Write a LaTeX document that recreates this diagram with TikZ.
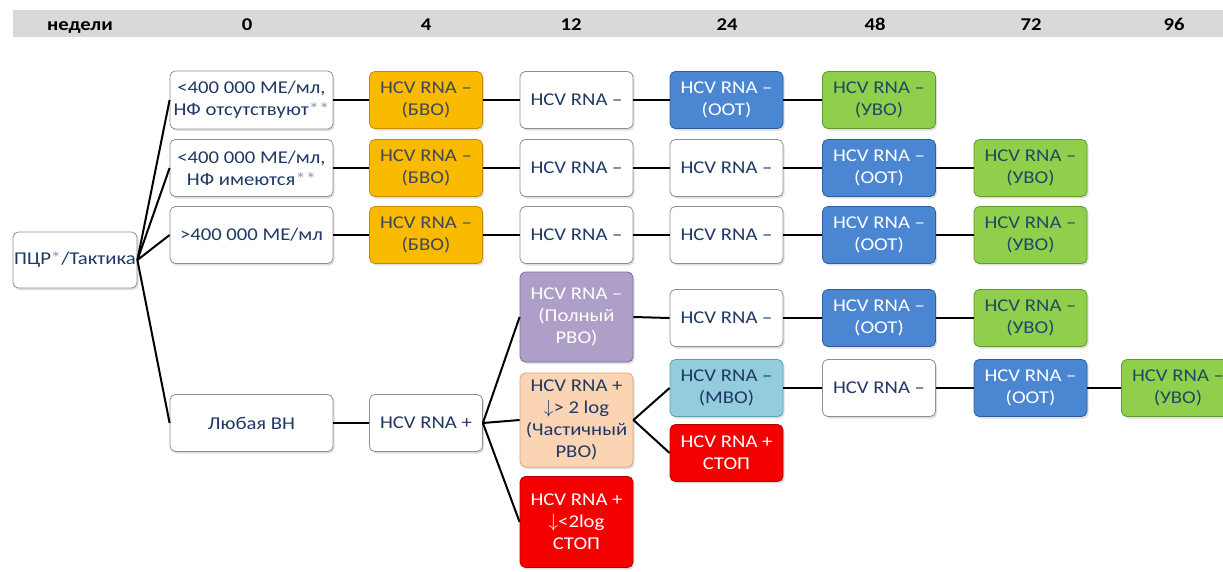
\documentclass[tikz,border=0pt]{standalone}
\usepackage{fontspec}
\setmainfont{Carlito}[FakeStretch=1.15]
\usepackage{xcolor}
\usepackage{tikz}
\usetikzlibrary{shadows}
\definecolor{hdrGray}{HTML}{D9D9D9}
\definecolor{boxEdge}{HTML}{8E8E8E}
\definecolor{inkNavy}{HTML}{1F3864}
\definecolor{starGray}{HTML}{8D9AAE}
\definecolor{bvoFill}{HTML}{F9BA00}
\definecolor{bvoEdge}{HTML}{C08E00}
\definecolor{bvoInk}{HTML}{3F4856}
\definecolor{ootFill}{HTML}{4A86D1}
\definecolor{ootEdge}{HTML}{2F5F9E}
\definecolor{uvoFill}{HTML}{8FCF4B}
\definecolor{uvoEdge}{HTML}{5F9A2E}
\definecolor{uvoInk}{HTML}{1E4A66}
\definecolor{rvoFill}{HTML}{AE9FC9}
\definecolor{rvoEdge}{HTML}{7D6E99}
\definecolor{partFill}{HTML}{FBD4B4}
\definecolor{partEdge}{HTML}{D8A67F}
\definecolor{mvoFill}{HTML}{93CDDD}
\definecolor{mvoEdge}{HTML}{5E9EB1}
\definecolor{stopFill}{HTML}{F50000}
\definecolor{stopEdge}{HTML}{B80000}

\begin{document}
\begin{tikzpicture}[x=0.75pt,y=-0.75pt,
    cell/.style={rectangle,rounded corners=4pt,line width=0.6pt,
                 minimum width=84.75pt,minimum height=42.75pt,
                 align=center,inner sep=1pt,
                 font=\fontsize{13.5}{16.5}\selectfont,
                 drop shadow={opacity=0.25,shadow xshift=1.2pt,shadow yshift=-1.5pt}},
    plainbox/.style={cell,draw=boxEdge,fill=white,text=inkNavy},
    widebox/.style={plainbox,minimum width=122.25pt},
    bvobox/.style={cell,draw=bvoEdge,fill=bvoFill,text=bvoInk},
    ootbox/.style={cell,draw=ootEdge,fill=ootFill,text=white},
    uvobox/.style={cell,draw=uvoEdge,fill=uvoFill,text=uvoInk},
    rvobox/.style={cell,draw=rvoEdge,fill=rvoFill,text=white,minimum height=67.5pt},
    partbox/.style={cell,draw=partEdge,fill=partFill,text=inkNavy,minimum height=70.5pt},
    mvobox/.style={cell,draw=mvoEdge,fill=mvoFill,text=inkNavy},
    stopbox/.style={cell,draw=stopEdge,fill=stopFill,text=white},
    weeklbl/.style={font=\fontsize{13.5}{15}\selectfont\bfseries,text=black,anchor=base},
    link/.style={line width=1.5pt,black}
  ]
  \clip (0,0) rectangle (1223,571);
  % Week scale
  \fill[hdrGray] (13,10) rectangle (1223,37);
  \node[weeklbl] (wk)   at (80,30)   {недели};
  \node[weeklbl] (wk0)  at (247,30)  {0};
  \node[weeklbl] (wk4)  at (426,30)  {4};
  \node[weeklbl] (wk12) at (571,30)  {12};
  \node[weeklbl] (wk24) at (727,30)  {24};
  \node[weeklbl] (wk48) at (875,30)  {48};
  \node[weeklbl] (wk72) at (1031,30) {72};
  \node[weeklbl] (wk96) at (1174,30) {96};
  % Start
  \node[plainbox,minimum width=93pt,minimum height=42pt,inner sep=0pt] (pcr) at (75,260)
       {ПЦР\textcolor{starGray}{*}/Тактика};
  % Row 1
  \node[widebox,minimum height=43.5pt] (c1) at (251.5,100)
       {<400 000 МЕ/мл,\\НФ отсутствуют\textcolor{starGray}{**}};
  \node[bvobox]   (bvo1)  at (426,100)   {HCV RNA –\\(БВО)};
  \node[plainbox] (neg1a) at (576.5,100) {HCV RNA –};
  \node[ootbox]   (oot1)  at (726.5,100) {HCV RNA –\\(ООТ)};
  \node[uvobox]   (uvo1)  at (879,100)   {HCV RNA –\\(УВО)};
  % Row 2
  \node[widebox] (c2) at (251.5,168)
       {<400 000 МЕ/мл,\\НФ имеются\textcolor{starGray}{ **}};
  \node[bvobox]   (bvo2)  at (426,168)    {HCV RNA –\\(БВО)};
  \node[plainbox] (neg2a) at (576.5,168)  {HCV RNA –};
  \node[plainbox] (neg2b) at (726.5,168)  {HCV RNA –};
  \node[ootbox]   (oot2)  at (879,168)    {HCV RNA –\\(ООТ)};
  \node[uvobox]   (uvo2)  at (1030.5,168) {HCV RNA –\\(УВО)};
  % Row 3
  \node[widebox]  (c3)    at (251.5,235)  {>400 000 МЕ/мл};
  \node[bvobox]   (bvo3)  at (426,235)    {HCV RNA –\\(БВО)};
  \node[plainbox] (neg3a) at (576.5,235)  {HCV RNA –};
  \node[plainbox] (neg3b) at (726.5,235)  {HCV RNA –};
  \node[ootbox]   (oot3)  at (879,235)    {HCV RNA –\\(ООТ)};
  \node[uvobox]   (uvo3)  at (1030.5,235) {HCV RNA –\\(УВО)};
  % Any viral load
  \node[widebox]  (anyvl) at (251.5,423) {Любая ВН};
  \node[plainbox] (pos4)  at (426,423)   {HCV RNA +};
  % Full early response
  \node[rvobox]   (full)  at (576.5,317)  {HCV RNA –\\(Полный\\РВО)};
  \node[plainbox] (neg4b) at (726.5,318)  {HCV RNA –};
  \node[ootbox]   (oot4)  at (879,318)    {HCV RNA –\\(ООТ)};
  \node[uvobox]   (uvo4)  at (1030.5,318) {HCV RNA –\\(УВО)};
  % Partial early response
  \node[partbox]  (part)  at (576.5,420)
       {HCV RNA +\\$\downarrow$> 2 log\\(Частичный\\РВО)};
  \node[mvobox]   (mvo)   at (726.5,388)  {HCV RNA –\\(МВО)};
  \node[plainbox] (neg5c) at (879,388)    {HCV RNA –};
  \node[ootbox]   (oot5)  at (1030.5,388) {HCV RNA –\\(ООТ)};
  \node[uvobox]   (uvo5)  at (1178,388)   {HCV RNA –\\(УВО)};
  \node[stopbox]  (stop24) at (726.5,453) {HCV RNA +\\СТОП};
  % No early response
  \node[stopbox,minimum height=68.25pt] (stop12) at (576.5,522)
       {HCV RNA +\\$\downarrow$<2log\\СТОП};
  % Connectors
  \draw[link] (pcr.east) -- (c1.west);
  \draw[link] (pcr.east) -- (c2.west);
  \draw[link] (pcr.east) -- (c3.west);
  \draw[link] (pcr.east) -- (anyvl.west);
  \draw[link] (c1) -- (bvo1) -- (neg1a) -- (oot1) -- (uvo1);
  \draw[link] (c2) -- (bvo2) -- (neg2a) -- (neg2b) -- (oot2) -- (uvo2);
  \draw[link] (c3) -- (bvo3) -- (neg3a) -- (neg3b) -- (oot3) -- (uvo3);
  \draw[link] (anyvl) -- (pos4);
  \draw[link] (pos4.east) -- (full.west);
  \draw[link] (pos4.east) -- (part.west);
  \draw[link] (pos4.east) -- (stop12.west);
  \draw[link] (full.east) -- (neg4b.west);
  \draw[link] (neg4b) -- (oot4) -- (uvo4);
  \draw[link] (part.east) -- (mvo.west);
  \draw[link] (part.east) -- (stop24.west);
  \draw[link] (mvo) -- (neg5c) -- (oot5) -- (uvo5);
\end{tikzpicture}
\end{document}
